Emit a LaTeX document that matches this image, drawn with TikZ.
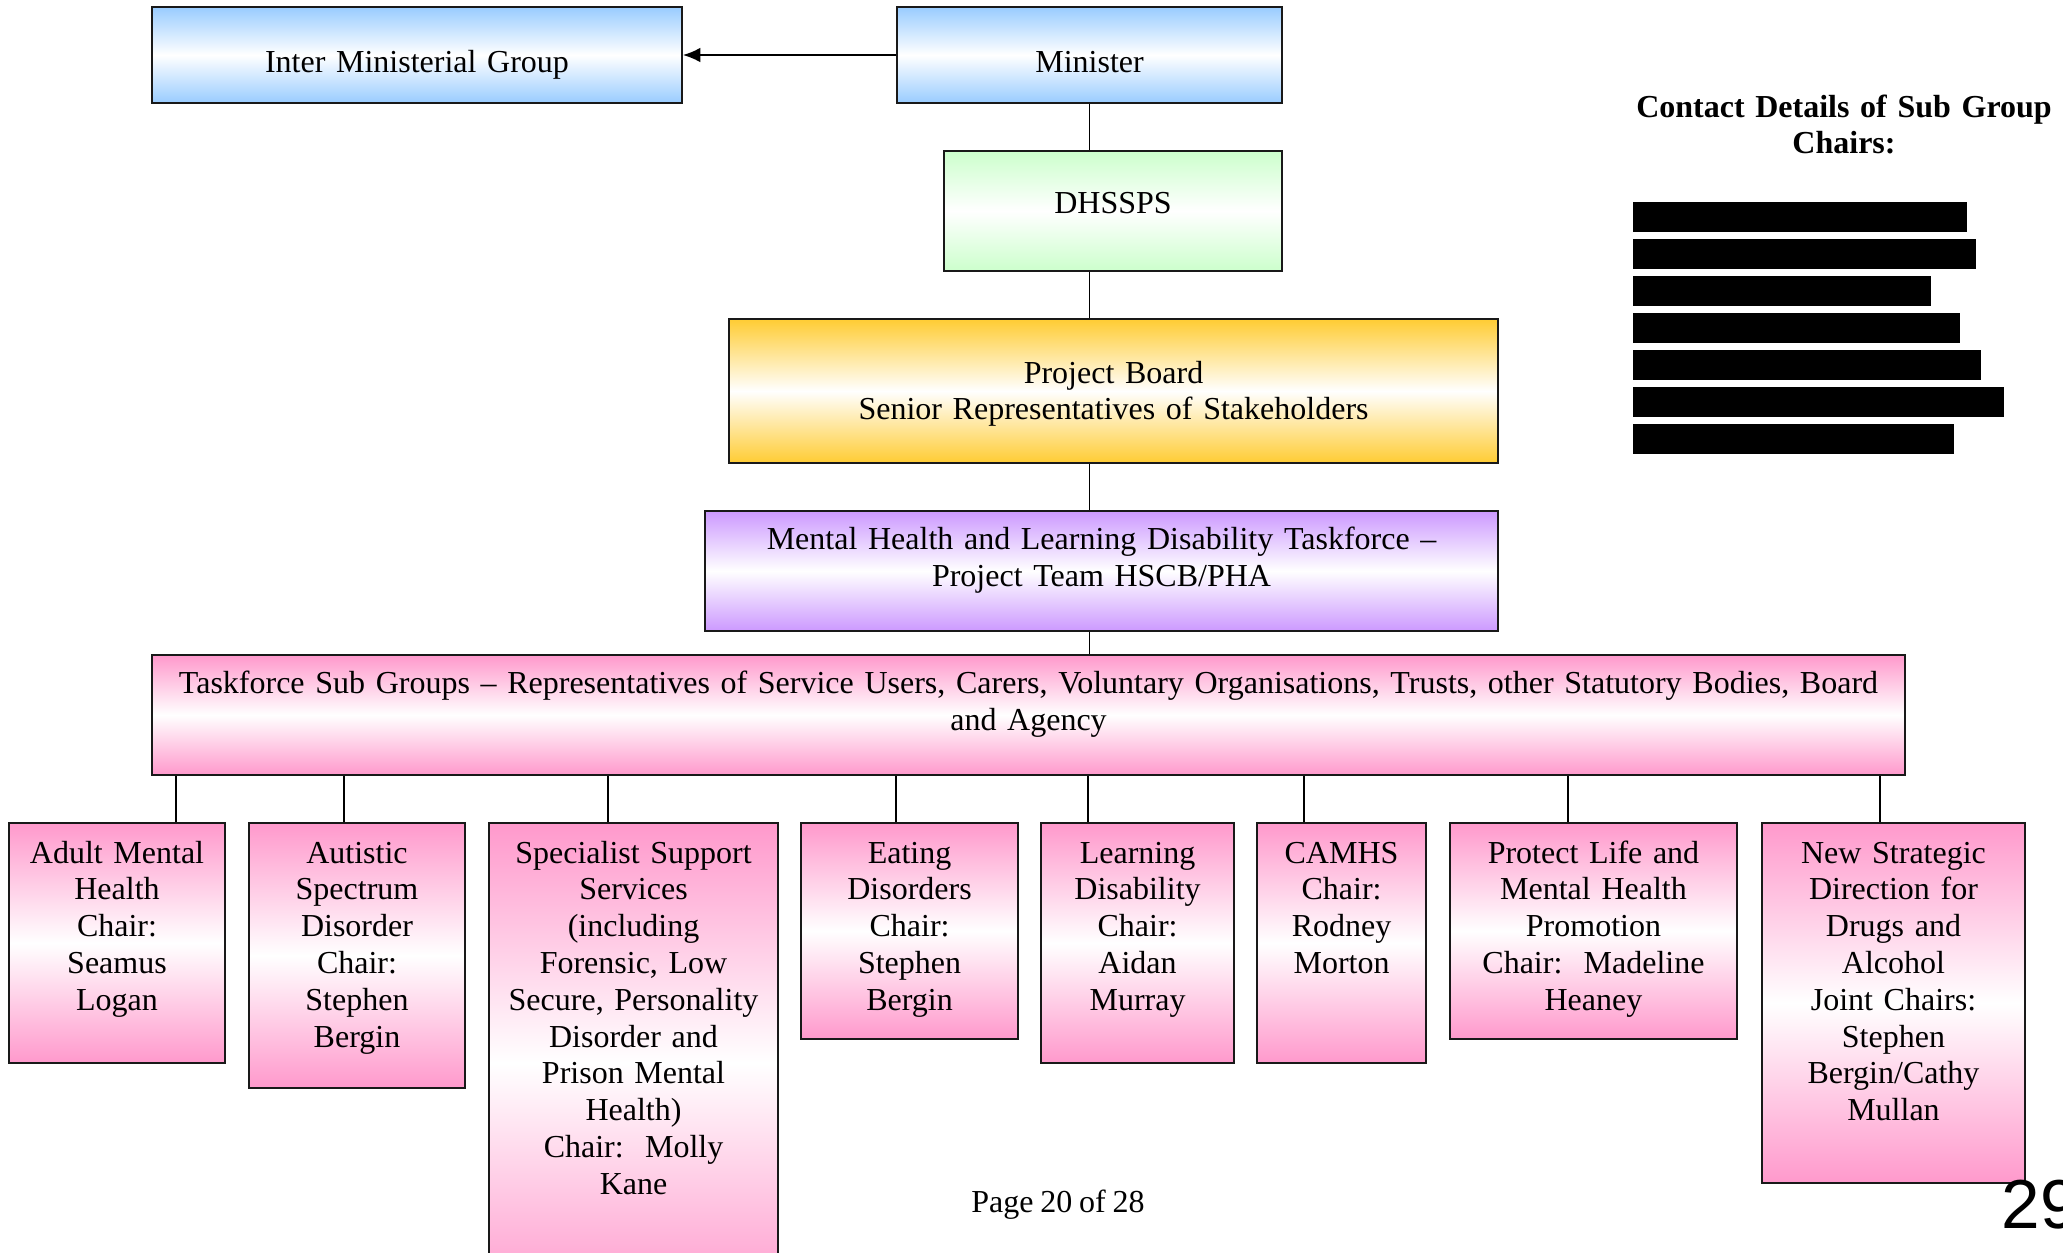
\documentclass[tikz,border=0pt]{standalone}
\usepackage{fontspec}
\setmainfont[WordSpace=0.85]{Liberation Serif}
\newfontfamily\arialfont{Liberation Sans}
\usetikzlibrary{arrows.meta}

\definecolor{boxblue}{RGB}{153,204,255}
\definecolor{boxgreen}{RGB}{204,255,204}
\definecolor{boxgold}{RGB}{255,204,51}
\definecolor{boxpurple}{RGB}{204,153,255}
\definecolor{boxpink}{RGB}{255,153,204}

\begin{document}
\begin{tikzpicture}
  [x=0.375pt,y=-0.375pt]
      \tikzstyle{org_box} = [draw=black!90, line width=0.75pt, anchor=north west, inner sep=0pt, align=center, font=\fontsize{12}{13.8}\selectfont]
      \tikzstyle{blue_box} = [org_box, top color=boxblue, bottom color=boxblue, middle color=white]
      \tikzstyle{green_box} = [org_box, top color=boxgreen, bottom color=boxgreen, middle color=white]
      \tikzstyle{gold_box} = [org_box, top color=boxgold, bottom color=boxgold, middle color=white]
      \tikzstyle{purple_box} = [org_box, top color=boxpurple, bottom color=boxpurple, middle color=white]
      \tikzstyle{pink_box} = [org_box, top color=boxpink, bottom color=boxpink, middle color=white]
      \tikzstyle{sub_box} = [pink_box, text height=15pt]
      \tikzstyle{edge_style} = [draw=black, line width=0.6pt]
  \clip (0,0) rectangle (2063,1252);
  \node[blue_box, text width=198.75pt, text height=24.5pt, text depth=11.5pt] (img) at (151,6) {Inter Ministerial Group};
  \node[blue_box, text width=144.4pt, text height=24.5pt, text depth=11.5pt] (minister) at (896,6) {Minister};
  \node[green_box, text width=126.75pt, text height=23.6pt, text depth=21.4pt] (dhssps) at (943,150) {DHSSPS};
  \node[gold_box, text width=288.4pt, text height=24pt, text depth=30pt] (board) at (728,318) {Project Board\\Senior Representatives of Stakeholders};
  \node[purple_box, text width=297.4pt, text height=14.5pt, text depth=30.5pt] (task) at (704,510) {Mental Health and Learning Disability Taskforce –\\Project Team HSCB/PHA};
  \node[pink_box, text width=657.4pt, text height=14.6pt, text depth=30.4pt] (subs) at (151,654) {Taskforce Sub Groups – Representatives of Service Users, Carers, Voluntary Organisations, Trusts, other Statutory Bodies, Board\\and Agency};
  \node[sub_box, text width=81pt, text depth=75pt] (adult) at (8,822) {Adult Mental\\Health\\Chair:\\Seamus\\Logan};
  \node[sub_box, text width=81pt, text depth=84.4pt] (autistic) at (248,822) {Autistic\\Spectrum\\Disorder\\Chair:\\Stephen\\Bergin};
  \node[sub_box, text width=108.4pt, text depth=165pt] (special) at (488,822) {Specialist Support\\Services\\(including\\Forensic, Low\\Secure, Personality\\Disorder and\\Prison Mental\\Health)\\Chair:~~Molly\\Kane};
  \node[sub_box, text width=81.4pt, text depth=66pt] (eating) at (800,822) {Eating\\Disorders\\Chair:\\Stephen\\Bergin};
  \node[sub_box, text width=72.4pt, text depth=75pt] (learning) at (1040,822) {Learning\\Disability\\Chair:\\Aidan\\Murray};
  \node[sub_box, text width=63.4pt, text depth=75pt] (camhs) at (1256,822) {CAMHS\\Chair:\\Rodney\\Morton};
  \node[sub_box, text width=107.6pt, text depth=66pt] (protect) at (1449,822) {Protect Life and\\Mental Health\\Promotion\\Chair:~~Madeline\\Heaney};
  \node[sub_box, text width=98.6pt, text depth=120pt] (drugs) at (1761,822) {New Strategic\\Direction for\\Drugs and\\Alcohol\\Joint Chairs:\\Stephen\\Bergin/Cathy\\Mullan};
  \node[font=\bfseries\fontsize{12}{13.6}\selectfont, text width=170pt, align=center, anchor=base, inner sep=0pt] (contact) at (1844,117) {Contact Details of Sub Group\\Chairs:};
  \node[font=\fontsize{12}{13.8}\selectfont, anchor=base, inner sep=0pt] (page) at (1058,1212) {Page 20 of 28};
  \node[font=\arialfont\fontsize{26}{30}\selectfont, anchor=base west, inner sep=0pt] (pagenum) at (2001,1228) {29};
  \draw[edge_style, -{Latex[length=6.5pt,width=5.5pt]}] (minister) -- (img);
  \draw[edge_style] (minister) -- (minister |- dhssps.north);
  \draw[edge_style] (minister |- dhssps.south) -- (minister |- board.north);
  \draw[edge_style] (minister |- board.south) -- (minister |- task.north);
  \draw[edge_style] (minister |- task.south) -- (minister |- subs.north);
  \foreach \n/\x in {adult/176, autistic/344, special/608, eating/896, learning/1088, camhs/1304, protect/1568, drugs/1880}
    \draw[edge_style] (\x,0 |- subs.south) -- (\x,0 |- \n.north);
  \foreach \y/\e in {202/1967, 239/1976, 276/1931, 313/1960, 350/1981, 387/2004, 424/1954}
    \fill[black] (1633,\y) rectangle (\e,\y+30);
\end{tikzpicture}
\end{document}
